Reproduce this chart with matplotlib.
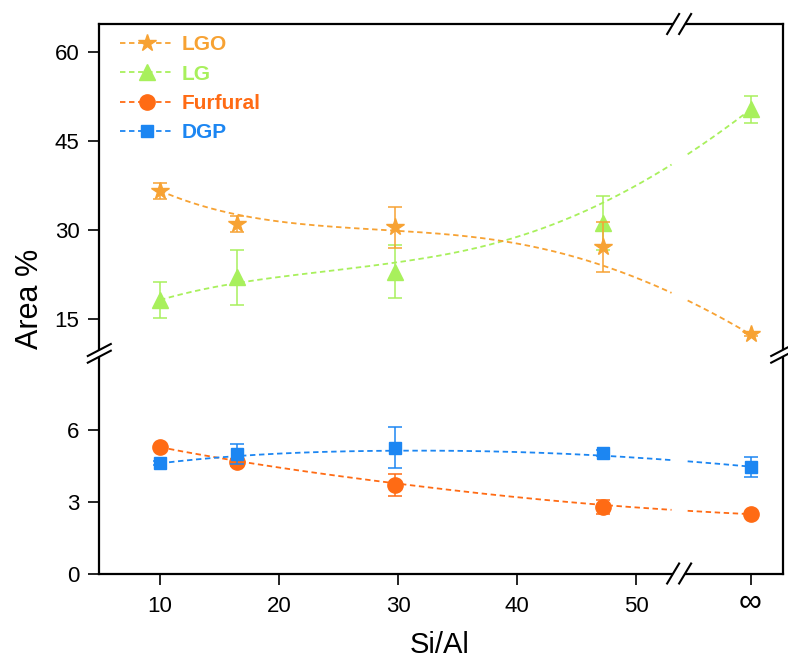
import numpy as np
import matplotlib.pyplot as plt
from matplotlib.lines import Line2D
from matplotlib.transforms import ScaledTranslation

plt.rcParams['font.family'] = ['Liberation Sans', 'DejaVu Sans']

# Si/Al ratio; the last point is the "infinite" ratio, drawn past the axis break
si_al = [10, 16.5, 29.7, 47.2, 59.6]
x_ticks = [10, 20, 30, 40, 50, 59.6]
x_ticklabels = ['10', '20', '30', '40', '50', '∞']

lgo = [36.6, 31.0, 30.45, 27.1, 12.4]
lgo_err = [1.35, 1.4, 3.45, 4.2, 0.3]
lg = [18.2, 22.0, 23.0, 31.2, 50.3]
lg_err = [3.0, 4.6, 4.4, 4.5, 2.3]
furfural = [5.28, 4.65, 3.71, 2.78, 2.49]
furfural_err = [0.1, 0.15, 0.45, 0.3, 0.08]
dgp = [4.61, 4.99, 5.26, 5.03, 4.47]
dgp_err = [0.08, 0.43, 0.85, 0.12, 0.42]

c_lgo = '#F7A233'
c_lg = '#A8F05C'
c_fur = '#FF6B14'
c_dgp = '#1C86F2'

W, H = 788, 659
fig = plt.figure(figsize=(W / 100, H / 100), dpi=100)
L, R = 99 / W, 782.7 / W
ax_top = fig.add_axes([L, 1 - 353 / H, R - L, (353 - 24) / H])
ax_bot = fig.add_axes([L, 1 - 574 / H, R - L, (574 - 353) / H])

x_break = 53.6
dash = (0, (3, 2))
handles = []


def bspline(xc, yc, k=3, n=500):
    # clamped B-spline using the data points as control points
    m = len(xc)
    knots = np.concatenate([np.zeros(k), np.linspace(0, 1, m - k + 1), np.ones(k)])
    t = np.linspace(0, 1, n)
    N = np.zeros((len(knots) - 1, n))
    for i in range(len(knots) - 1):
        N[i] = (knots[i] <= t) & (t < knots[i + 1])
    N[m - 1, -1] = 1
    for p in range(1, k + 1):
        Nn = np.zeros((len(knots) - 1 - p, n))
        for i in range(len(knots) - 1 - p):
            a = knots[i + p] - knots[i]
            b = knots[i + p + 1] - knots[i + 1]
            left = (t - knots[i]) / a * N[i] if a > 0 else 0
            right = (knots[i + p + 1] - t) / b * N[i + 1] if b > 0 else 0
            Nn[i] = left + right
        N = Nn
    return N.T @ np.asarray(xc, float), N.T @ np.asarray(yc, float)


def draw(ax, y, err, color, marker, ms, label, z):
    xs, ys = bspline(si_al, y)
    ys[(xs > x_break - 0.6) & (xs < x_break + 0.6)] = np.nan
    ax.plot(xs, ys, ls=dash, color=color, lw=1.3, zorder=z)
    ax.errorbar(si_al, y, yerr=err, fmt='none', ecolor=color, elinewidth=1.1,
                capsize=5, capthick=1.1, zorder=z)
    ax.plot(si_al, y, ls='none', marker=marker, ms=ms, color=color, zorder=z + 0.5)
    handles.append(Line2D([], [], ls=dash, lw=1.3, color=color, marker=marker,
                          ms=ms, label=label))


draw(ax_top, lg, lg_err, c_lg, '^', 11, 'LG', 3)
draw(ax_top, lgo, lgo_err, c_lgo, '*', 13, 'LGO', 4)
draw(ax_bot, furfural, furfural_err, c_fur, 'o', 11, 'Furfural', 3)
draw(ax_bot, dgp, dgp_err, c_dgp, 's', 9, 'DGP', 4)

handles = [handles[1], handles[0], handles[2], handles[3]]
leg = ax_top.legend(handles=handles, loc='upper left', bbox_to_anchor=(0.0307, 0.966),
                    frameon=False, borderpad=0, borderaxespad=0, handlelength=2.6,
                    handletextpad=0.35, labelspacing=0.5, labelcolor='linecolor',
                    prop={'weight': 'bold', 'size': 15})

for ax in (ax_top, ax_bot):
    ax.set_xlim(4.87, 62.3)
    for s in ax.spines.values():
        s.set_linewidth(1.6)
    ax.tick_params(direction='out', length=8, width=1.2, labelsize=16,
                   top=False, right=False, pad=6)

ax_top.set_ylim(9.27, 64.7)
ax_top.set_yticks([15, 30, 45, 60])
ax_top.spines['bottom'].set_visible(False)
ax_top.tick_params(axis='x', bottom=False, labelbottom=False)

ax_bot.set_ylim(0, 9.2)
ax_bot.set_yticks([0, 3, 6])
ax_bot.spines['top'].set_visible(False)
ax_bot.set_xticks(x_ticks)
ax_bot.set_xticklabels(x_ticklabels)
ax_bot.tick_params(axis='x', pad=8)
inf_lbl = ax_bot.get_xticklabels()[-1]
inf_lbl.set_fontsize(23)
inf_lbl.set_transform(inf_lbl.get_transform() + ScaledTranslation(0, 6 / 72, fig.dpi_scale_trans))

fig.text(30 / W, 1 - 299 / H, 'Area %', rotation=90, ha='center', va='center', fontsize=22)
fig.text(440 / W, 1 - 645 / H, 'Si/Al', ha='center', va='center', fontsize=21)


# break marks drawn in pixel space
def px_line(xs, ys, **kw):
    fig.add_artist(Line2D([x / W for x in xs], [1 - y / H for y in ys],
                          transform=fig.transFigure, **kw))


# y break on the left and right spines
for sx in (99.3, 782.7):
    px_line([sx, sx], [349.5, 357], color='white', lw=3, solid_capstyle='butt')
    for cy in (350, 356.7):
        px_line([sx - 11.5, sx + 11.5], [cy + 6, cy - 6], color='black', lw=1.5)

# x break on the top and bottom spines
bx = ax_bot.transData.transform((x_break, 0))[0]
for sy in (24, 573.5):
    px_line([bx - 6, bx + 6], [sy, sy], color='white', lw=3, solid_capstyle='butt')
    for cx in (bx - 6, bx + 6):
        px_line([cx - 6, cx + 6], [sy + 10, sy - 10], color='black', lw=1.5)

fig.savefig('out.png', dpi=100)
